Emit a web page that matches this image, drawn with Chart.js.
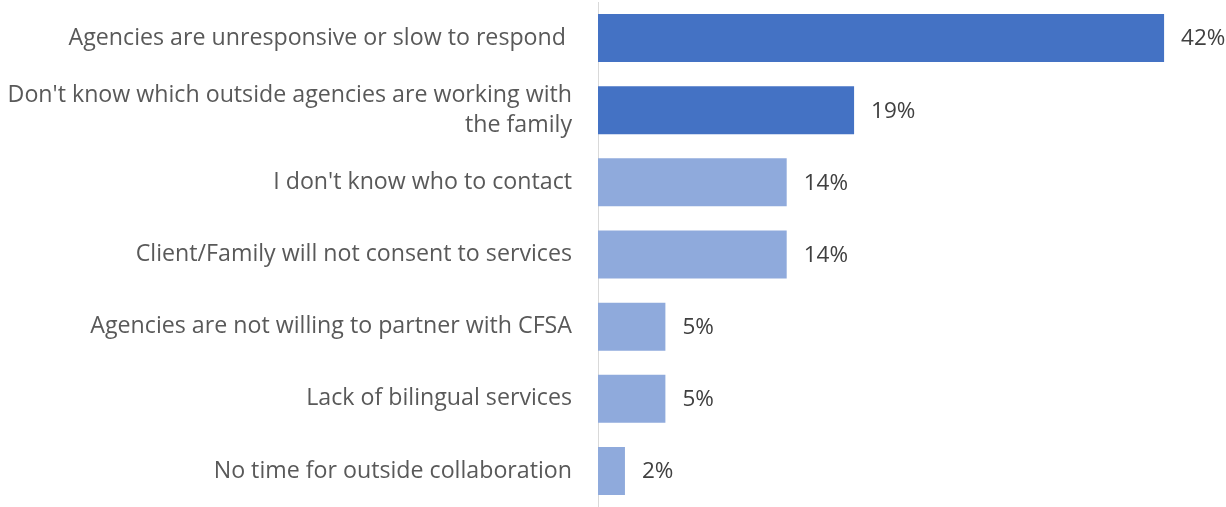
<!DOCTYPE html>
<html>
<head>
<meta charset="utf-8">
<script src="https://cdn.jsdelivr.net/npm/chart.js@4"></script>
<style>
  html, body { margin: 0; padding: 0; background: #fff; }
  #wrap { width: 1226px; height: 507px; }
</style>
</head>
<body>
<div id="wrap"><canvas id="barrierChart" width="1226" height="507"></canvas></div>
<script>
// Barriers to working with outside agencies (share of respondents)
const categories = [
    'Agencies are unresponsive or slow to respond ',
    ["Don't know which outside agencies are working with", 'the family'],
    "I don't know who to contact",
    'Client/Family will not consent to services',
    'Agencies are not willing to partner with CFSA',
    'Lack of bilingual services',
    'No time for outside collaboration'
];
const percentages = [42, 19, 14, 14, 5, 5, 2];
const barColors = ['#4472C4', '#4472C4', '#8FAADC', '#8FAADC', '#8FAADC', '#8FAADC', '#8FAADC'];

const labelFont = '"Open Sans", "Liberation Sans", sans-serif';

// draw the "42%" style labels just past the end of each bar
const valueLabels = {
    id: 'valueLabels',
    afterDatasetsDraw(chart) {
        const ctx = chart.ctx;
        const meta = chart.getDatasetMeta(0);
        ctx.save();
        ctx.font = '22.5px ' + labelFont;
        ctx.fillStyle = '#404040';
        ctx.textAlign = 'left';
        ctx.textBaseline = 'middle';
        meta.data.forEach((bar, i) => {
            ctx.fillText(percentages[i] + '%', bar.x + 17, bar.y + 1);
        });
        ctx.restore();
    }
};

window.addEventListener('DOMContentLoaded', event => {
    const ctx = document.getElementById('barrierChart').getContext('2d');
    new Chart(ctx, {
        type: 'bar',
        data: {
            labels: categories,
            datasets: [{
                data: percentages,
                backgroundColor: barColors,
                borderWidth: 0,
                barPercentage: 0.665,
                categoryPercentage: 1
            }]
        },
        options: {
            indexAxis: 'y',
            responsive: false,
            animation: false,
            layout: { padding: { top: 2, right: 8, bottom: 0, left: 0 } },
            plugins: {
                legend: { display: false },
                tooltip: { enabled: false }
            },
            scales: {
                x: {
                    display: false,
                    min: 0,
                    max: 46
                },
                y: {
                    grid: { display: false },
                    border: { display: true, color: '#D9D9D9', width: 1 },
                    ticks: {
                        color: '#595959',
                        padding: 18,
                        font: { family: labelFont, size: 23.2, lineHeight: 1.28 }
                    },
                    afterFit(scale) {
                        // keep the label column fixed and let the bars use the full height
                        scale.width = 598;
                        scale.paddingTop = 0;
                        scale.paddingBottom = 0;
                    }
                }
            }
        },
        plugins: [valueLabels]
    });
});
</script>
</body>
</html>
